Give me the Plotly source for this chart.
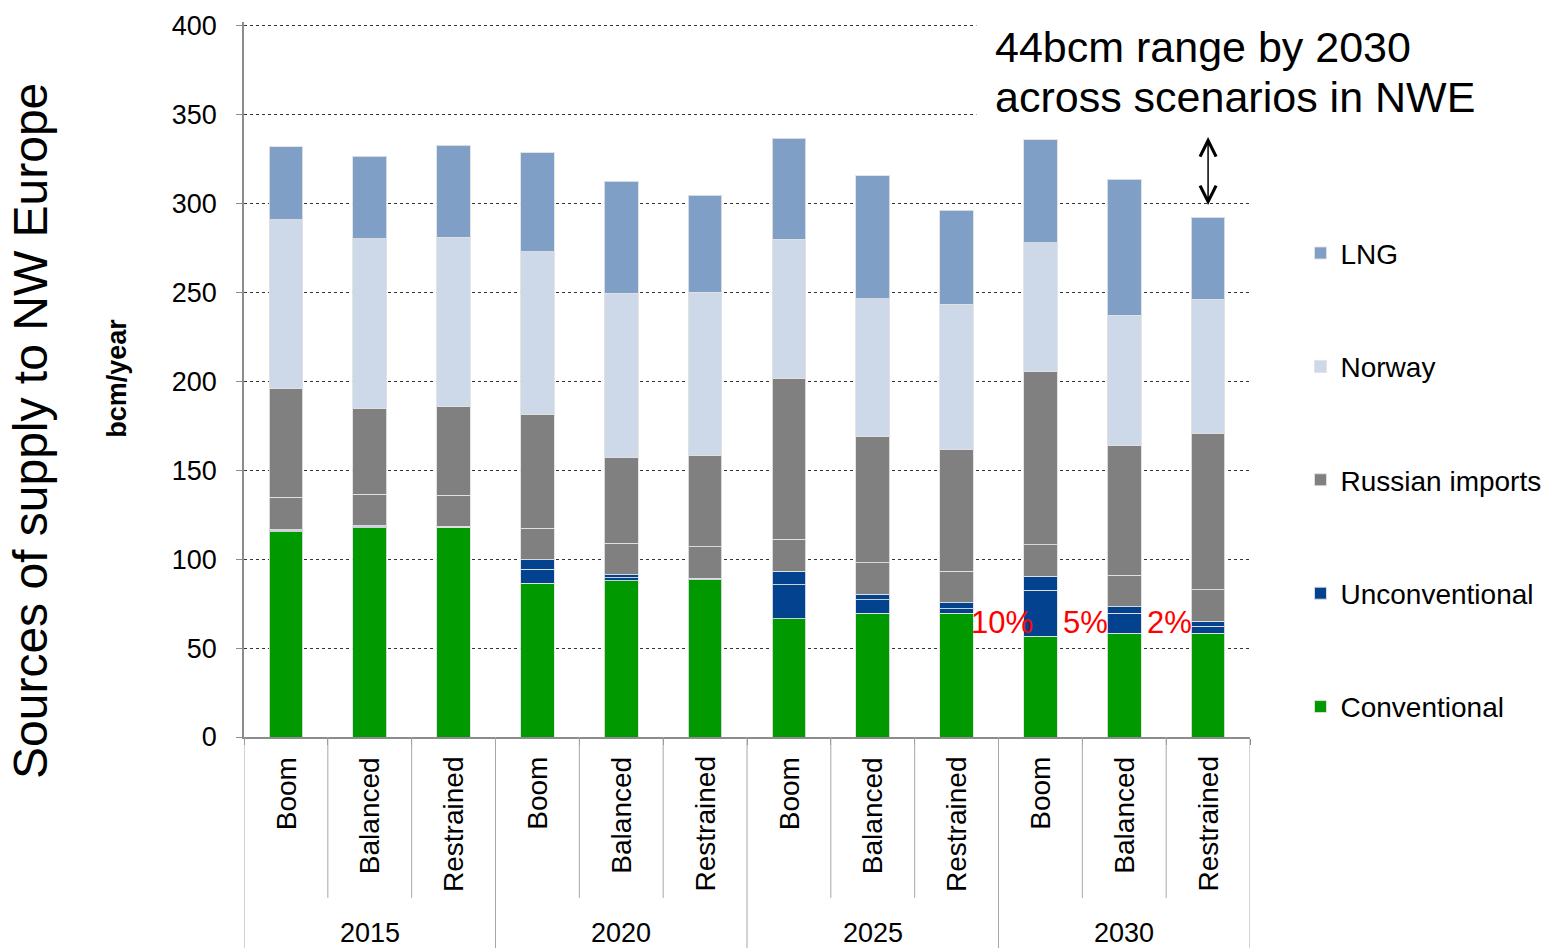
import plotly.graph_objects as go

# Scenario categories (bcm/year)
years = ["2015", "2020", "2025", "2030"]
scenarios = ["Boom", "Balanced", "Restrained"]

# Supply components per bar (year x scenario, in order)
conventional = [115.5, 117.6, 117.6, 86.4, 87.8, 88.4, 66.4, 69.6, 69.6, 56.7, 58.4, 58.4]
unconventional_a = [0.5, 0.6, 0.4, 8.0, 1.7, 0.5, 19.2, 7.7, 2.6, 25.7, 11.2, 3.8]
unconventional_b = [0.5, 0.5, 0.4, 5.4, 1.6, 0.4, 7.7, 3.1, 3.4, 8.0, 3.5, 2.9]
russian_a = [18.2, 17.7, 17.4, 17.5, 17.8, 17.8, 17.8, 17.6, 17.7, 17.8, 17.8, 17.8]
russian_b = [61.5, 48.5, 49.8, 64.3, 48.4, 51.3, 90.7, 70.7, 68.5, 97.4, 73.1, 87.8]
norway = [94.7, 95.3, 95.3, 91.3, 92.3, 91.6, 78.0, 77.7, 81.5, 72.4, 73.1, 75.3]
lng = [40.9, 46.2, 51.8, 55.5, 62.8, 54.7, 56.9, 69.2, 52.9, 57.8, 76.5, 46.2]

y_ticks = [0, 50, 100, 150, 200, 250, 300, 350, 400]

FONT = "Liberation Sans, Arial, sans-serif"
EDGE = "rgba(225,225,225,0.9)"

n = len(conventional)
xpos = list(range(n))
scen_labels = [s for _ in years for s in scenarios]
totals = [sum(v) for v in zip(conventional, unconventional_a, unconventional_b,
                              russian_a, russian_b, norway, lng)]
unconv_total = [a + b for a, b in zip(unconventional_a, unconventional_b)]

fig = go.Figure()

# (name, values, colour, legend group, show in legend, legend rank)
series = [
    ("Conventional", conventional, "#009900", "conv", True, 5),
    ("Unconventional", unconventional_a, "#03428F", "unconv", True, 4),
    ("Unconventional", unconventional_b, "#03428F", "unconv", False, 4),
    ("Russian imports", russian_a, "#808080", "rus", True, 3),
    ("Russian imports", russian_b, "#808080", "rus", False, 3),
    ("Norway", norway, "#CDD9E8", "nor", True, 2),
    ("LNG", lng, "#7F9FC7", "lng", True, 1),
]
for name, vals, color, grp, show, rank in series:
    fig.add_trace(go.Bar(
        x=xpos, y=vals, name=name, legendgroup=grp, showlegend=show, legendrank=rank,
        marker=dict(color=color, line=dict(color=EDGE, width=1)),
        customdata=scen_labels,
        hovertemplate="%{customdata}: %{y}<extra>" + name + "</extra>",
    ))

shapes = []
# Category dividers below the axis: short within a year, long between years
for k in range(n + 1):
    boundary = k - 0.5
    full = (k % len(scenarios) == 0)
    shapes.append(dict(type="line", xref="x", yref="paper",
                       x0=boundary, x1=boundary, y0=0, y1=-0.297 if full else -0.225,
                       line=dict(color="#A6A6A6", width=1)))
# White panel behind the range note (hides the upper gridlines there)
shapes.append(dict(type="rect", xref="paper", yref="paper", layer="above",
                   x0=0.728, x1=1.02, y0=0.855, y1=1.05,
                   fillcolor="white", line=dict(width=0)))

annotations = []
# Scenario labels (rotated)
for i, s in enumerate(scen_labels):
    annotations.append(dict(x=i, y=-0.025, xref="x", yref="paper", text=s,
                            textangle=-90, showarrow=False, xanchor="center",
                            yanchor="top", font=dict(family=FONT, size=28, color="black")))
# Year labels centred under each group
for j, yr in enumerate(years):
    centre = j * len(scenarios) + (len(scenarios) - 1) / 2
    annotations.append(dict(x=centre, y=-0.274, xref="x", yref="paper", text=yr,
                            showarrow=False, xanchor="center", yanchor="middle",
                            font=dict(family=FONT, size=27, color="black")))

# Unconventional share labels for the 2030 scenarios
for i in range(n - len(scenarios), n):
    share = round(100 * unconv_total[i] / totals[i])
    annotations.append(dict(x=i - 0.46, y=64.5, xref="x", yref="y", text=f"{share}%",
                            showarrow=False, xanchor="center", yanchor="middle",
                            font=dict(family=FONT, size=31, color="#FF0000")))

# Range arrow across 2030 scenarios
hi = max(totals[n - 3:])
lo = min(totals[n - 3:])
annotations.append(dict(x=n - 1, y=hi + 1.5, ax=n - 1, ay=lo + 6, xref="x", yref="y",
                        axref="x", ayref="y", text="", showarrow=True,
                        arrowhead=5, startarrowhead=5, arrowside="end+start",
                        arrowsize=2.1, startarrowsize=2.1, arrowwidth=1.5, arrowcolor="black"))
note_lines = [f"{round(hi - lo)}bcm range by 2030", "across scenarios in NWE"]
for k, line in enumerate(note_lines):
    annotations.append(dict(x=0.745, y=(737 - 47 - k * 50) / 714.55, xref="paper", yref="paper",
                            text=line, showarrow=False, xanchor="left", yanchor="middle",
                            align="left",
                            font=dict(family=FONT, size=43, color="black")))

# Axis titles
annotations.append(dict(x=-0.2117, y=0.428, xref="paper", yref="paper",
                        text="Sources of supply to NW Europe", textangle=-90,
                        showarrow=False, xanchor="center", yanchor="middle",
                        font=dict(family=FONT, size=48, color="black")))
annotations.append(dict(x=-0.1262, y=0.501, xref="paper", yref="paper",
                        text="<b>bcm/year</b>", textangle=-90,
                        showarrow=False, xanchor="center", yanchor="middle",
                        font=dict(family=FONT, size=27, color="black")))

fig.update_layout(
    width=1553, height=948,
    margin=dict(l=244, r=303, t=22.45, b=211),
    paper_bgcolor="white", plot_bgcolor="white",
    barmode="stack", bargap=0.6,
    font=dict(family=FONT, color="black"),
    shapes=shapes, annotations=annotations,
    legend=dict(xref="container", x=0.8374, y=0.7115, xanchor="left", yanchor="top",
                traceorder="grouped", tracegroupgap=74,
                font=dict(family=FONT, size=28, color="black"),
                bgcolor="rgba(0,0,0,0)"),
    xaxis=dict(range=[-0.5, n - 0.5], showgrid=False, zeroline=False,
               showline=True, linecolor="#8C8C8C", linewidth=1.5,
               tickvals=[k - 0.5 for k in range(n + 1)], ticks="outside",
               ticklen=6, tickcolor="#8C8C8C", showticklabels=False, fixedrange=True),
    yaxis=dict(range=[0, 402], tickvals=y_ticks, showgrid=True, gridcolor="#333333",
               griddash="dot", gridwidth=1, zeroline=False,
               showline=True, linecolor="#8C8C8C", linewidth=1.5,
               ticks="outside", ticklen=6, tickcolor="#8C8C8C", ticklabelstandoff=14,
               tickfont=dict(family=FONT, size=27, color="black")),
)

fig.write_html("out.html")
